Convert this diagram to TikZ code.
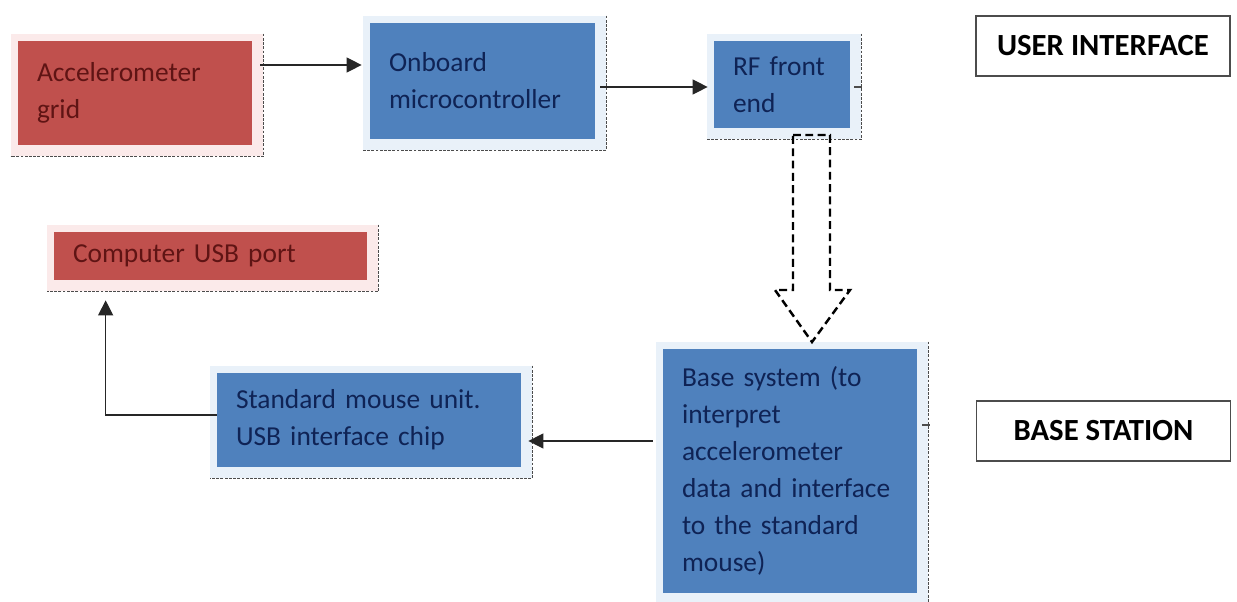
\documentclass[tikz,border=0pt]{standalone}
\usepackage{fontspec}
\setmainfont{Carlito}
\usetikzlibrary{positioning,arrows.meta,calc,backgrounds}
\definecolor{boxred}{RGB}{192,80,77}
\definecolor{boxblue}{RGB}{79,129,189}
\definecolor{txtred}{RGB}{95,20,20}
\definecolor{txtblue}{RGB}{15,35,85}
\definecolor{panelred}{RGB}{251,234,234}
\definecolor{panelblue}{RGB}{233,241,249}
\tikzset{
  redbox/.style={rectangle, fill=boxred, text=txtred, align=left, inner xsep=0.38cm,
                 inner ysep=0pt, font=\fontsize{15.6}{21}\selectfont},
  bluebox/.style={redbox, fill=boxblue, text=txtblue},
  labelbox/.style={rectangle, draw=black!70, line width=1.1pt, minimum width=5.08cm,
                   minimum height=1.2cm, font=\fontsize{17.5}{20}\selectfont\bfseries},
  link/.style={line width=0.7pt, draw=black!85, -{Triangle[length=3mm,width=3mm]}},
  shadowline/.style={draw=black!70, line width=0.8pt, dash pattern=on 1.6pt off 0.8pt},
  beam/.style={draw=black, line width=1.4pt, dash pattern=on 4.5pt off 2.5pt},
  stub/.style={draw=black!70, line width=0.8pt},
}
\begin{document}
\begin{tikzpicture}
  \useasboundingbox (0,0) rectangle (24.74,-12.04);
  \node[redbox, text width=3.92cm, minimum height=2.08cm] (acc) at (2.70,-1.86) {Accelerometer\\grid};
  \node[bluebox, text width=3.74cm, minimum height=2.32cm] (mcu) at (9.65,-1.62) {Onboard\\microcontroller};
  \node[bluebox, text width=1.96cm, minimum height=1.74cm] (rf) at (15.64,-1.69) {RF front\\end};
  \node[redbox, text width=5.50cm, minimum height=0.96cm] (usb) at (4.21,-5.12) {Computer USB port};
  \node[bluebox, text width=5.32cm, minimum height=1.88cm] (mouse) at (7.38,-8.40) {Standard mouse unit.\\USB interface chip};
  \node[bluebox, text width=4.32cm, minimum height=4.88cm] (base) at (15.80,-9.42)
    {Base system (to\\interpret\\accelerometer\\data and interface\\to the standard\\mouse)};
  \node[labelbox] (ui) at (22.06,-0.92) {USER INTERFACE};
  \node[labelbox] (bs) at (22.07,-8.62) {BASE STATION};

  \begin{scope}[on background layer]
    \foreach \n/\c in {acc/panelred, mcu/panelblue, rf/panelblue, usb/panelred, mouse/panelblue, base/panelblue} {
      \fill[\c] ([shift={(-0.14,0.14)}]\n.north west) rectangle ([shift={(0.22,-0.22)}]\n.south east);
      \draw[shadowline] ([shift={(0.22,0.14)}]\n.north east) -- ([shift={(0.22,-0.22)}]\n.south east)
        -- ([shift={(-0.14,-0.22)}]\n.south west);
    }
  \end{scope}

  \coordinate (a1) at ([shift={(0.16,0.56)}]acc.east);
  \coordinate (a2) at ([shift={(0.10,-0.12)}]mcu.east);
  \coordinate (a3) at ([shift={(-0.20,0.60)}]base.west);
  \draw[link] (a1) -- ($(a1 -| mcu.west)+(-0.16,0)$);
  \draw[link] (a2) -- ($(a2 -| rf.west)+(-0.12,0)$);
  \draw[link] (a3) -- ($(a3 -| mouse.east)+(0.14,0)$);
  \draw[link] ([yshift=0.10cm]mouse.west) -| ($(usb.south west)+(1.04,-0.40)$);
  \draw[stub] ([shift={(0.08,-0.05)}]rf.east) -- ++(0.16,0);
  \draw[stub] ([shift={(0.10,0.92)}]base.east) -- ++(0.16,0);

  \draw[beam] (15.86,-2.70) -- (16.60,-2.70) -- (16.60,-5.80) -- (17.00,-5.80)
    -- (16.24,-6.84) -- (15.50,-5.80) -- (15.86,-5.80) -- cycle;
\end{tikzpicture}
\end{document}
